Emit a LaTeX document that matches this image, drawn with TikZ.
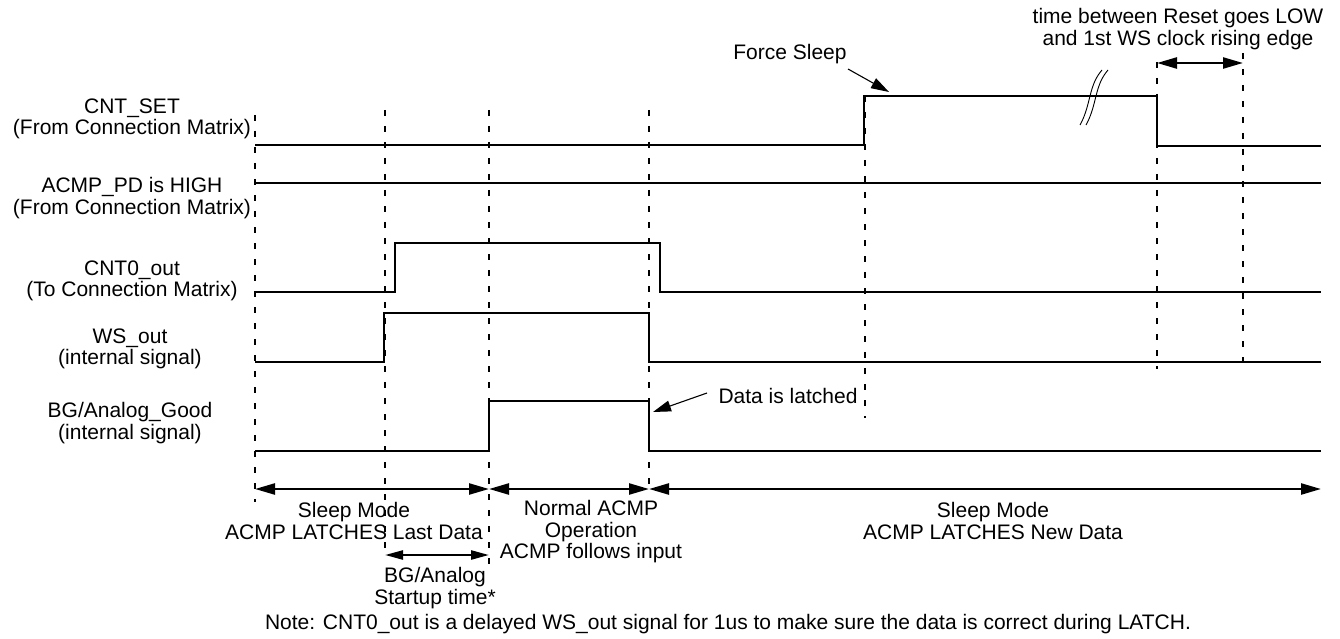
\documentclass[tikz,border=0pt]{standalone}
\usepackage{fontspec}
\setmainfont{Liberation Sans}
\usetikzlibrary{arrows.meta}
\begin{document}
\begin{tikzpicture}[x=1pt,y=-1pt,
  sig/.style={line width=2.4pt, line join=miter},
  vdash/.style={line width=2.2pt, dash pattern=on 6pt off 10pt},
  dim/.style={line width=2.4pt, {Triangle[length=20pt,width=11pt]}-{Triangle[length=20pt,width=11pt]}},
  dimsmall/.style={line width=2.4pt, {Triangle[length=18pt,width=9pt]}-{Triangle[length=18pt,width=9pt]}},
  callout/.style={line width=1.1pt, -{Triangle[length=18pt,width=11pt]}},
  lbl/.style={font=\fontsize{21}{21.5}\selectfont, align=center, inner sep=0pt},
  brk/.style={line width=0.9pt}
]
\useasboundingbox (0,0) rectangle (1340,639);

% vertical dashed markers
\draw[vdash] (255,115) -- (255,502);
\draw[vdash] (385,110) -- (385,555);
\draw[vdash] (489,110) -- (489,573);
\draw[vdash] (649,110) -- (649,489);
\draw[vdash] (865,96) -- (865,418);
\draw[vdash] (1157,62) -- (1157,369);
\draw[vdash] (1243,53) -- (1243,366);

% signal labels
\node[lbl] (lcntset) at (132,119) {CNT\_SET\\(From Connection Matrix)};
\node[lbl] (lacmp) at (132,198) {ACMP\_PD is HIGH\\(From Connection Matrix)};
\node[lbl] (lcnt0) at (132,281) {CNT0\_out\\(To Connection Matrix)};
\node[lbl] (lws) at (130,349) {WS\_out\\(internal signal)};
\node[lbl] (lbg) at (130,423) {BG/Analog\_Good\\(internal signal)};

% waveforms
\draw[sig] (255,145) -- (864,145) -- (864,96) -- (1157,96) -- (1157,146) -- (1321,146);
\draw[sig] (256,183) -- (1321,183);
\draw[sig] (255,292) -- (395,292) -- (395,243) -- (660,243) -- (660,292) -- (1321,292);
\draw[sig] (255,362) -- (384,362) -- (384,313) -- (649,313) -- (649,362) -- (1321,362);
\draw[sig] (255,451) -- (489,451) -- (489,401) -- (649,401) -- (649,451) -- (1321,451);

% break mark
\draw[brk] (1080,125) .. controls (1085,116) and (1087,108) .. (1090,96) .. controls (1093,84) and (1096,77) .. (1102,70);
\draw[brk] (1086,125) .. controls (1091,116) and (1093,108) .. (1096,96) .. controls (1099,84) and (1102,77) .. (1108,70);

% callouts
\node[lbl] (fs) at (790,54) {Force Sleep};
\coordinate (fstail) at (848,69);
\coordinate (fstip) at (889,92);
\draw[callout] (fstail) -- (fstip);
\node[lbl] (dl) at (788,396) {Data is latched};
\coordinate (dltail) at (707,393);
\coordinate (dltip) at (653,412);
\draw[callout] (dltail) -- (dltip);

% top dimension
\node[lbl] (top) at (1178,29) {time between Reset goes LOW\\and 1st WS clock rising edge};
\coordinate (ta) at (1157,63);
\coordinate (tb) at (1243,63);
\draw[dim] (ta) -- (tb);

% bottom dimensions
\coordinate (b0) at (255,489);
\coordinate (b1) at (489,489);
\coordinate (b2) at (649,489);
\coordinate (b3) at (1321,489);
\draw[dim] (b0) -- (b1);
\draw[dim] (b1) -- (b2);
\draw[dim] (b2) -- (b3);
\coordinate (s0) at (385,555);
\coordinate (s1) at (489,555);
\draw[dimsmall] (s0) -- (s1);

\node[lbl] (m1) at (354,521) {Sleep Mode\\ACMP LATCHES Last Data};
\node[lbl] (m2) at (591,532) {Normal ACMP\\Operation\\ACMP follows input};
\node[lbl] (m3) at (993,521) {Sleep Mode\\ACMP LATCHES New Data};
\node[lbl] (m4) at (435,588) {BG/Analog\\Startup time*};
\node[lbl] (note) at (728,624) {Note: CNT0\_out is a delayed WS\_out signal for 1us to make sure the data is correct during LATCH.};
\end{tikzpicture}
\end{document}
